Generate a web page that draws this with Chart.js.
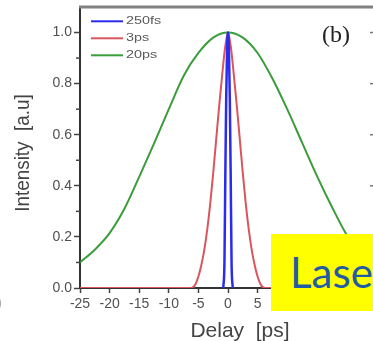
<!DOCTYPE html>
<html>
<head>
<meta charset="utf-8">
<script src="https://cdn.jsdelivr.net/npm/chart.js@4"></script>
<style>
  html, body { margin: 0; padding: 0; background: #fff; overflow: hidden; }
  #wrap { position: relative; width: 373px; height: 341px; overflow: hidden; }
  #chart { position: absolute; left: 0; top: 0; width: 380px; height: 341px; }
  #frag { position: absolute; left: -4px; top: 292px; font: 18px "Liberation Sans", Arial, sans-serif; color: #999; }
  #laser { position: absolute; left: 271px; top: 234px; width: 110px; height: 77px; background: #ffff00; overflow: hidden; }
  #laser span { position: absolute; left: 19px; top: 17px; font: 42px Lato, sans-serif; line-height: 1; color: #1f5ca4; white-space: nowrap; }
</style>
</head>
<body>
<div id="wrap">
  <canvas id="chart" width="380" height="341"></canvas>
  <div id="frag">)</div>
  <div id="laser"><span>Laser</span></div>
</div>
<script>
// Pulse profiles (delay in ps, intensity normalised)
const delay250fs = [-0.8, -0.6, -0.45, -0.3, -0.15, 0, 0.15, 0.3, 0.45, 0.6, 0.8];
const intensity250fs = [0, 0.1, 0.45, 0.75, 0.94, 1.0, 0.94, 0.75, 0.45, 0.1, 0];

const delay3ps = [-25, -6.2, -5.5, -5, -4.5, -4, -3.5, -3, -2.5, -2, -1.5, -1, -0.5, 0,
                  0.5, 1, 1.5, 2, 2.5, 3, 3.5, 4, 4.5, 5, 5.5, 6.2, 25];
const intensity3ps = [0, 0, 0.015, 0.045, 0.09, 0.15, 0.23, 0.33, 0.45, 0.58, 0.71, 0.83, 0.94, 1.0,
                      0.94, 0.83, 0.71, 0.58, 0.45, 0.33, 0.23, 0.15, 0.09, 0.045, 0.015, 0, 0];

const delay20ps = [-25, -22.5, -20, -17.5, -15, -12.5, -10, -7.5, -5, -2.5, 0,
                   2.5, 5, 7.5, 10, 12.5, 15, 17.5, 20, 22.5, 25];
const intensity20ps = [0.10, 0.15, 0.215, 0.31, 0.435, 0.565, 0.70, 0.83, 0.92, 0.98, 1.0,
                       0.98, 0.92, 0.82, 0.70, 0.57, 0.44, 0.32, 0.21, 0.13, 0.08];

const seriesLabels = ['250fs', '3ps', '20ps'];
const xTicks = [-25, -20, -15, -10, -5, 0, 5, 10, 15, 20, 25];
const yTicks = [0, 0.2, 0.4, 0.6, 0.8, 1.0];
const yMinorTicks = [0.1, 0.3, 0.5, 0.7, 0.9];

function toPoints(xs, ys) {
    return xs.map((x, i) => ({ x: x, y: ys[i] }));
}

function strokeLine(ctx, x1, y1, x2, y2) {
    ctx.beginPath();
    ctx.moveTo(x1, y1);
    ctx.lineTo(x2, y2);
    ctx.stroke();
}

// Frame, minor ticks, titles and the in-plot legend
const decorPlugin = {
    id: 'decor',
    afterDraw(chart) {
        const ctx = chart.ctx;
        const a = chart.chartArea;
        const y = chart.scales.y;
        ctx.save();

        // top frame
        ctx.strokeStyle = '#808080';
        ctx.lineWidth = 3;
        strokeLine(ctx, a.left - 1, a.top, a.right, a.top);

        // minor ticks on the left axis
        ctx.strokeStyle = '#444';
        ctx.lineWidth = 1.5;
        yMinorTicks.forEach(v => {
            const py = y.getPixelForValue(v);
            strokeLine(ctx, a.left - 4, py, a.left, py);
        });

        // inward ticks on the right frame
        ctx.strokeStyle = '#777';
        yTicks.forEach(v => {
            const py = y.getPixelForValue(v);
            strokeLine(ctx, a.right - 6, py, a.right, py);
        });
        yMinorTicks.forEach(v => {
            const py = y.getPixelForValue(v);
            strokeLine(ctx, a.right - 3, py, a.right, py);
        });

        // axis titles
        ctx.fillStyle = '#444';
        ctx.textAlign = 'center';
        ctx.textBaseline = 'alphabetic';
        ctx.font = '21px "Liberation Sans", Arial, sans-serif';
        ctx.fillText('Delay  [ps]', 240, 337);
        ctx.save();
        ctx.translate(29, 153);
        ctx.rotate(-Math.PI / 2);
        ctx.scale(0.9, 1);
        ctx.font = '21px "Liberation Sans", Arial, sans-serif';
        ctx.fillText('Intensity  [a.u]', 0, 0);
        ctx.restore();

        // panel label
        ctx.fillStyle = '#222';
        ctx.font = '24px "Liberation Serif", "Times New Roman", serif';
        ctx.textAlign = 'left';
        ctx.fillText('(b)', 322, 42);

        // legend
        ctx.font = '11.5px "Liberation Sans", Arial, sans-serif';
        ctx.textBaseline = 'middle';
        chart.data.datasets.forEach((ds, i) => {
            const ly = 21.3 + i * 17;
            ctx.strokeStyle = ds.borderColor;
            ctx.lineWidth = 2;
            strokeLine(ctx, 91, ly, 123, ly);
            ctx.save();
            ctx.translate(126, ly);
            ctx.scale(1.25, 1);
            ctx.fillStyle = '#5a5a5a';
            ctx.fillText(ds.label, 0, 0);
            ctx.restore();
        });

        ctx.restore();
    }
};

const ctx = document.getElementById('chart').getContext('2d');
const chart = new Chart(ctx, {
    type: 'line',
    data: {
        datasets: [
            {
                label: seriesLabels[0],
                data: toPoints(delay250fs, intensity250fs),
                borderColor: '#2b2bf0',
                borderWidth: 2.5,
                order: 0
            },
            {
                label: seriesLabels[1],
                data: toPoints(delay3ps, intensity3ps),
                borderColor: '#d9565e',
                borderWidth: 2,
                order: 1
            },
            {
                label: seriesLabels[2],
                data: toPoints(delay20ps, intensity20ps),
                borderColor: '#3a9c3a',
                borderWidth: 2,
                order: 2
            }
        ]
    },
    options: {
        responsive: false,
        animation: false,
        layout: { padding: { left: 0, right: 4, top: 7, bottom: 0 } },
        elements: {
            point: { radius: 0 },
            line: { cubicInterpolationMode: 'monotone', fill: false }
        },
        scales: {
            x: {
                type: 'linear',
                min: -25,
                max: 25,
                afterBuildTicks: (scale) => { scale.ticks = xTicks.map(v => ({ value: v })); },
                afterFit: (scale) => {
                    scale.height = 53;
                    scale.paddingLeft = 0;
                    scale.paddingRight = 0;
                },
                grid: { drawOnChartArea: false, drawTicks: true, tickLength: 5, tickWidth: 1.5, tickColor: '#444' },
                border: { display: true, color: '#333', width: 2 },
                ticks: {
                    autoSkip: false,
                    maxRotation: 0,
                    padding: 3,
                    color: '#505050',
                    font: { family: '"Liberation Sans", Arial, sans-serif', size: 14 },
                    callback: (v) => String(v)
                }
            },
            y: {
                type: 'linear',
                min: 0,
                max: 1.1,
                afterBuildTicks: (scale) => { scale.ticks = yTicks.map(v => ({ value: v })); },
                afterFit: (scale) => {
                    scale.width = 80;
                    scale.paddingTop = 0;
                    scale.paddingBottom = 0;
                },
                grid: { drawOnChartArea: false, drawTicks: true, tickLength: 6, tickWidth: 1.5, tickColor: '#444' },
                border: { display: true, color: '#333', width: 2 },
                ticks: {
                    padding: 2,
                    color: '#505050',
                    font: { family: '"Liberation Sans", Arial, sans-serif', size: 14 },
                    callback: (v) => v.toFixed(1)
                }
            }
        },
        plugins: {
            legend: { display: false },
            tooltip: { enabled: false }
        }
    },
    plugins: [decorPlugin]
});
</script>
</body>
</html>
